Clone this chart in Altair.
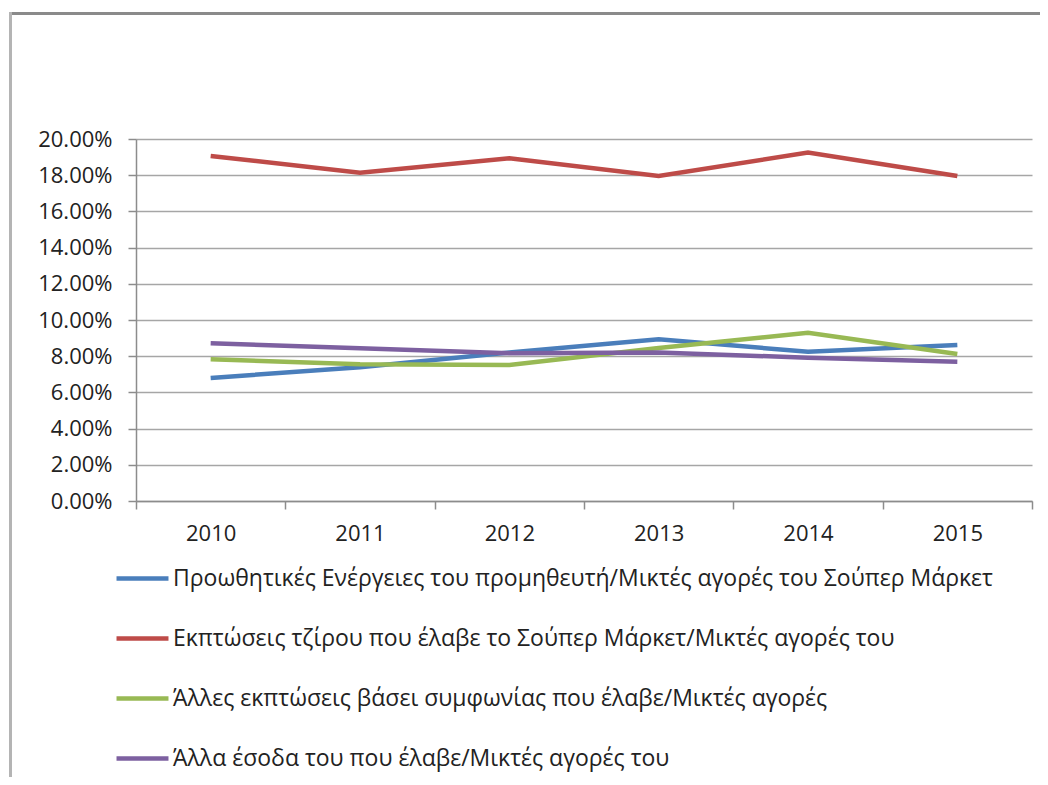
import altair as alt
import pandas as pd

years = ["2010", "2011", "2012", "2013", "2014", "2015"]
series_names = [
    "Προωθητικές Ενέργειες του προμηθευτή/Μικτές αγορές του Σούπερ Μάρκετ",
    "Εκπτώσεις τζίρου που έλαβε το Σούπερ Μάρκετ/Μικτές αγορές του",
    "Άλλες εκπτώσεις βάσει συμφωνίας  που έλαβε/Μικτές αγορές",
    "Άλλα έσοδα του που έλαβε/Μικτές αγορές του",
]
promo = [0.068, 0.0739, 0.0820, 0.0893, 0.0825, 0.0862]
turnover = [0.1906, 0.1814, 0.1893, 0.1796, 0.1925, 0.1796]
other_disc = [0.0783, 0.0755, 0.0751, 0.0845, 0.0930, 0.0812]
other_income = [0.0871, 0.0844, 0.0816, 0.0820, 0.0792, 0.0770]
colors = ["#4A7EBB", "#BE4B48", "#98B954", "#7D60A0"]

rows = []
for name, vals in zip(series_names, [promo, turnover, other_disc, other_income]):
    for y, v in zip(years, vals):
        rows.append({"year": y, "value": v, "series": name})
df = pd.DataFrame(rows)

FONT = "Open Sans"

lines = alt.Chart(df).mark_line(strokeWidth=4.5).encode(
    x=alt.X(
        "year:O",
        bandPosition=0.5,
        scale=alt.Scale(type="band", paddingInner=0, paddingOuter=0),
        axis=alt.Axis(
            title=None, labelAngle=0, tickBand="extent", grid=False,
            domainColor="#8c8c8c", domainWidth=1.5, tickColor="#8c8c8c",
            tickWidth=1.5, tickSize=8, labelPadding=14, labelFontSize=22,
            labelColor="#222222", labelFont=FONT,
        ),
    ),
    y=alt.Y(
        "value:Q",
        scale=alt.Scale(domain=[0, 0.2], nice=False),
        axis=alt.Axis(
            title=None, format=".2%", values=[i * 0.02 for i in range(11)],
            gridColor="#a6a6a6", gridWidth=1.5, domainColor="#8c8c8c",
            domainWidth=1.5, tickColor="#8c8c8c", tickWidth=1.5, tickSize=8,
            labelPadding=16, labelFontSize=22, labelColor="#222222",
            labelFont=FONT,
        ),
    ),
    color=alt.Color(
        "series:N",
        scale=alt.Scale(domain=series_names, range=colors),
        legend=alt.Legend(
            title=None, orient="none", legendX=-22, legendY=411,
            direction="vertical", symbolType="stroke", symbolSize=2700,
            symbolStrokeWidth=4.5, labelFontSize=23, labelFont=FONT,
            labelColor="#222222", labelLimit=1000, rowPadding=19,
            labelOffset=2,
        ),
    ),
    order=alt.Order("year:O"),
)

frame_data = pd.DataFrame({"k": [0]})
top_rule = alt.Chart(frame_data).mark_rule(color="#8a8a8a", strokeWidth=3).encode(
    x=alt.value(-125), x2=alt.value(950), y=alt.value(-125.5)
)
left_rule = alt.Chart(frame_data).mark_rule(color="#b4b4b4", strokeWidth=3).encode(
    x=alt.value(-125.5), y=alt.value(-127), y2=alt.value(700)
)

chart = alt.layer(lines, top_rule, left_rule).properties(
    width=896, height=362,
    autosize=alt.AutoSizeParams(type="none"),
    padding={"left": 128, "top": 131, "right": 8, "bottom": 276},
    background="white",
).configure_view(stroke=None)

chart.save("out.html", embed_options={"renderer": "svg", "actions": False})
